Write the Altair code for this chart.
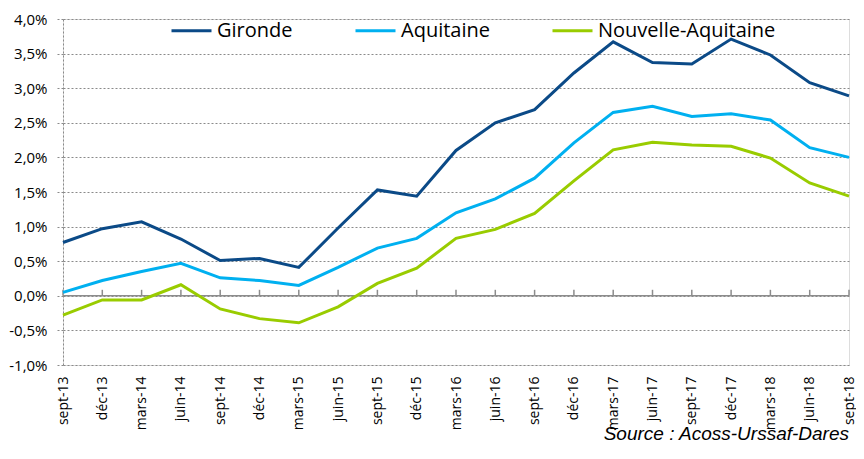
import altair as alt
import pandas as pd

periods = ["sept-13", "déc-13", "mars-14", "juin-14", "sept-14", "déc-14", "mars-15",
           "juin-15", "sept-15", "déc-15", "mars-16", "juin-16", "sept-16", "déc-16",
           "mars-17", "juin-17", "sept-17", "déc-17", "mars-18", "juin-18", "sept-18"]
gironde = [0.77, 0.97, 1.07, 0.82, 0.51, 0.54, 0.41, 0.98, 1.53, 1.44, 2.10,
           2.50, 2.69, 3.22, 3.67, 3.37, 3.35, 3.71, 3.48, 3.08, 2.89]
aquitaine = [0.05, 0.22, 0.35, 0.47, 0.26, 0.22, 0.15, 0.41, 0.69, 0.83, 1.20,
             1.40, 1.70, 2.21, 2.65, 2.74, 2.59, 2.63, 2.54, 2.14, 2.00]
nouvelle = [-0.28, -0.06, -0.06, 0.16, -0.19, -0.33, -0.39, -0.16, 0.18, 0.40, 0.83,
            0.96, 1.19, 1.66, 2.11, 2.22, 2.18, 2.16, 1.99, 1.63, 1.44]
series = ["Gironde", "Aquitaine", "Nouvelle-Aquitaine"]
colors = ["#0B4A87", "#00B0F0", "#99CC00"]
y_ticks = [-1.0, -0.5, 0.0, 0.5, 1.0, 1.5, 2.0, 2.5, 3.0, 3.5, 4.0]
source_text = "Source : Acoss-Urssaf-Dares"

rows = []
for name, vals in zip(series, [gironde, aquitaine, nouvelle]):
    for p, v in zip(periods, vals):
        rows.append({"periode": p, "serie": name, "valeur": v})
df = pd.DataFrame(rows)
df_periods = pd.DataFrame({"periode": periods})

W, H = 786, 346
FONT = "Open Sans"
GRID = "#8a8a8a"

x_axis = alt.Axis(title=None, labelAngle=270, ticks=False, domain=False,
                  grid=False, labelPadding=11, labelFontSize=14,
                  labelFont=FONT, labelColor="#000", labelOverlap=False)
x_scale = alt.Scale(type="point", padding=0)

y_scale = alt.Scale(domain=[y_ticks[0], y_ticks[-1]], nice=False)
label_expr = "replace(replace(format(datum.value, '.1f'), '.', ','), '−', '-') + '%'"
y_axis = alt.Axis(title=None, tickCount=len(y_ticks) - 1, labelExpr=label_expr,
                  labelOverlap=False, labelBound=False, labelFlush=False,
                  grid=True, gridDash=[2, 2], gridColor=GRID, gridWidth=1,
                  domain=True, domainDash=[2, 2], domainColor=GRID,
                  ticks=True, tickDash=[2, 2], tickColor=GRID, tickSize=6,
                  labelPadding=10, labelFontSize=15, labelFont=FONT,
                  labelColor="#000")

zero_rule = alt.Chart(pd.DataFrame({"v": [0.0]})).mark_rule(
    color="#8c8c8c", strokeWidth=1.5).encode(
    y=alt.Y("v:Q", scale=y_scale, axis=y_axis))

zero_ticks = alt.Chart(df_periods).mark_rule(
    color="#8c8c8c", strokeWidth=1.5, y2Offset=-6).encode(
    x=alt.X("periode:N", sort=periods, scale=x_scale, axis=x_axis),
    y=alt.datum(0.0), y2=alt.datum(0.0))

lines = alt.Chart(df).mark_line(strokeWidth=3).encode(
    x=alt.X("periode:N", sort=periods, scale=x_scale, axis=x_axis),
    y=alt.Y("valeur:Q", scale=y_scale, axis=y_axis),
    color=alt.Color("serie:N", sort=series,
                    scale=alt.Scale(domain=series, range=colors),
                    legend=alt.Legend(orient="none", legendX=107, legendY=-10,
                                      direction="horizontal", title=None,
                                      symbolType="stroke", symbolSize=1600,
                                      symbolStrokeWidth=3, labelFont=FONT,
                                      labelFontSize=20, labelOffset=4,
                                      columnPadding=56, labelLimit=300,
                                      labelColor="#000")),
    order=alt.Order("serie:N"),
)

src = alt.Chart(pd.DataFrame({"t": [source_text]})).mark_text(
    align="right", baseline="alphabetic", font="Liberation Sans",
    fontStyle="italic", fontSize=19, color="#000").encode(
    x=alt.value(786), y=alt.value(421), text="t:N")

chart = alt.layer(zero_rule, zero_ticks, lines, src).properties(
    width=W, height=H,
    autosize=alt.AutoSizeParams(type="none"),
    padding={"left": 55, "top": 11, "right": 7, "bottom": 77},
).configure_view(stroke=None).configure(background="white")

chart.save("out.html", embed_options={"renderer": "svg", "actions": False})
